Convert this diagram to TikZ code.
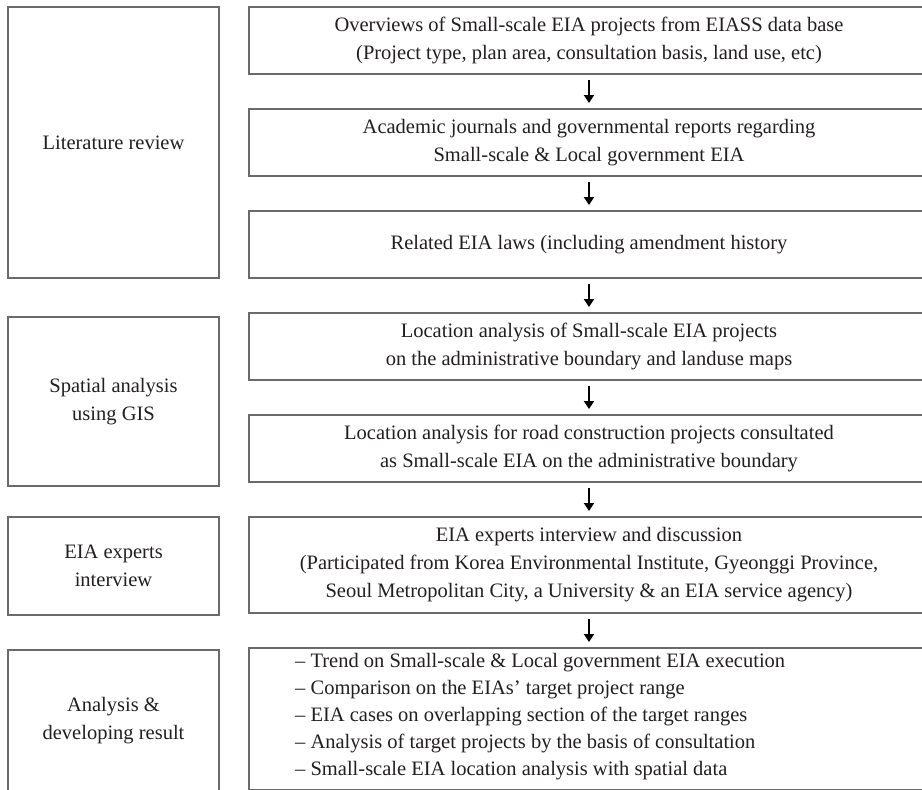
\documentclass[tikz,border=0pt]{standalone}
\usepackage{fontspec}
\setmainfont{Liberation Serif}
\usetikzlibrary{arrows.meta,positioning}
\definecolor{Frame}{HTML}{6A6A6A}
\definecolor{Ink}{HTML}{231F20}
\tikzset{
  stagebox/.style={draw=Frame,line width=1.3pt,outer sep=0pt,minimum width=211pt,align=center,inner sep=0pt,text=Ink,font=\fontsize{20.5}{28}\selectfont},
  taskbox/.style={draw=Frame,line width=1.3pt,outer sep=0pt,minimum width=680pt,minimum height=67pt,align=center,inner sep=0pt,text=Ink,font=\fontsize{20.5}{28}\selectfont},
  listtext/.style={align=left,inner sep=0pt,text=Ink,font=\fontsize{20.5}{27}\selectfont},
  flow/.style={-{Triangle[length=8pt,width=10pt]},draw=black,line width=2.6pt,shorten <=6pt,shorten >=6pt}
}
\begin{document}
\begin{tikzpicture}[x=1pt,y=-1pt,node distance=35pt]
    \useasboundingbox (0,0) rectangle (922,790);
    \clip (0,0) rectangle (922,790);
    % stages
    \node[stagebox,minimum height=271pt,anchor=north west] (lit) at (8,7) {Literature review};
    \node[stagebox,minimum height=169pt,anchor=north west] (gis) at (8,317) {Spatial analysis\\using GIS};
    \node[stagebox,minimum height=98pt,anchor=north west] (expert) at (8,517) {EIA experts\\interview};
    \node[stagebox,minimum height=142pt,anchor=north west] (result) at (8,650) {Analysis \&\\developing result};
    % tasks
    \node[taskbox,anchor=north west] (eiass) at (249,7) {Overviews of Small-scale EIA projects from EIASS data base\\(Project type, plan area, consultation basis, land use, etc)};
    \node[taskbox,below=of eiass] (journal) {Academic journals and governmental reports regarding\\Small-scale \& Local government EIA};
    \node[taskbox,below=of journal] (laws) {Related EIA laws (including amendment history};
    \node[taskbox,below=of laws] (landuse) {Location analysis of Small-scale EIA projects\\on the administrative boundary and landuse maps};
    \node[taskbox,below=of landuse] (road) {Location analysis for road construction projects consultated\\as Small-scale EIA on the administrative boundary};
    \node[taskbox,minimum height=96pt,below=of road] (discuss) {EIA experts interview and discussion\\(Participated from Korea Environmental Institute, Gyeonggi Province,\\Seoul Metropolitan City, a University \& an EIA service agency)};
    \node[taskbox,minimum height=142pt,below=of discuss] (findings) {};
    \node[listtext,anchor=west] (findlist) at ([xshift=46pt,yshift=2pt]findings.west) {– Trend on Small-scale \& Local government EIA execution\\– Comparison on the EIAs’ target project range\\– EIA cases on overlapping section of the target ranges\\– Analysis of target projects by the basis of consultation\\– Small-scale EIA location analysis with spatial data};
    \draw[flow] (eiass) -- (journal);
    \draw[flow] (journal) -- (laws);
    \draw[flow] (laws) -- (landuse);
    \draw[flow] (landuse) -- (road);
    \draw[flow] (road) -- (discuss);
    \draw[flow] (discuss) -- (findings);
\end{tikzpicture}
\end{document}
